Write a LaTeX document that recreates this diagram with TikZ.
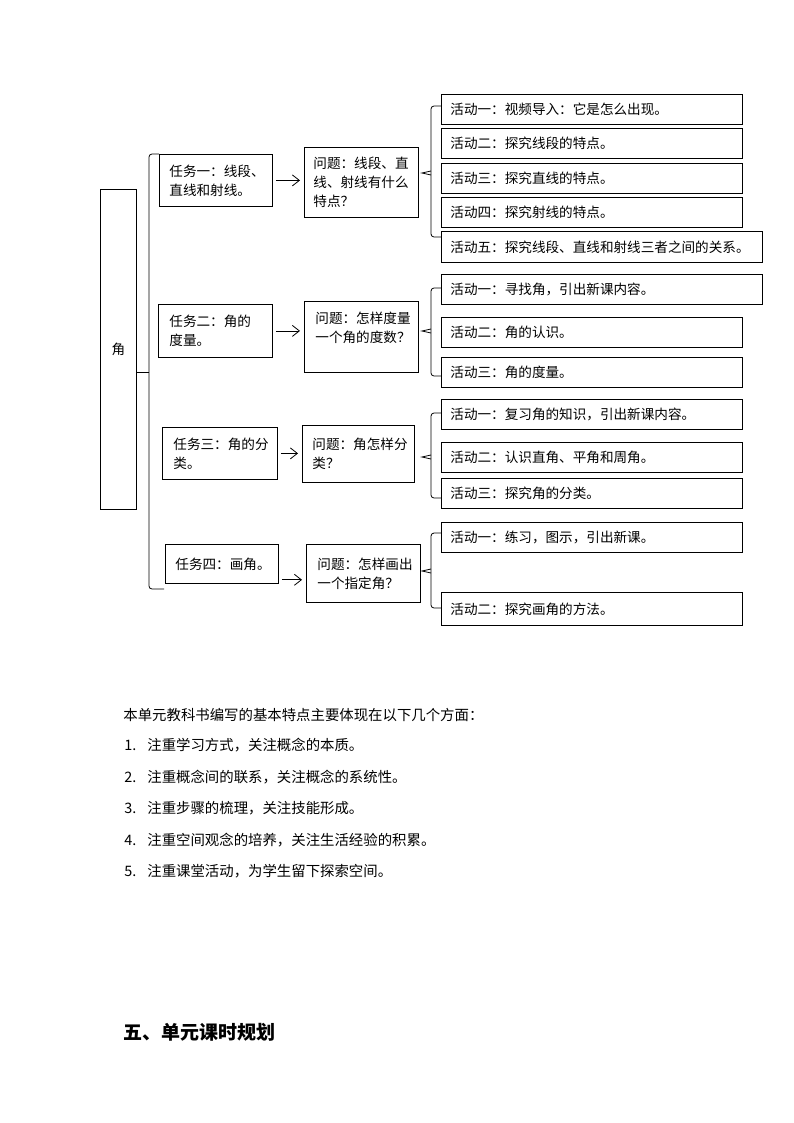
\documentclass[tikz,border=0pt]{standalone}
\usepackage{fontspec}
\setmainfont{Noto Sans CJK SC}
\usetikzlibrary{arrows.meta,calc}
\begin{document}
\begin{tikzpicture}[x=1pt,y=-1pt,line width=0.8pt,
  box/.style={draw,anchor=north west,inner ysep=0pt,align=left,font=\fontsize{13.6}{19}\selectfont},
  act/.style={draw,anchor=north west,inner xsep=9pt,inner ysep=0pt,align=left,minimum height=30pt,font=\fontsize{13.6}{16}\selectfont},
  arr/.style={-{Straight Barb[length=7pt,width=11pt]},shorten <=3pt,shorten >=4pt},
  brace/.style={rounded corners=3pt},
  body/.style={anchor=west,inner sep=0pt,font=\fontsize{14.4}{16}\selectfont}]
\useasboundingbox (0,0) rectangle (794,1123);

% root
\node[box,minimum width=36pt,minimum height=320pt,align=center,inner xsep=0pt] (jiao) at (100,189) {角};

% tasks and questions
\node[box,text width=93pt,inner xsep=10pt,minimum height=52pt] (T1) at (159,154) {任务一：线段、\\直线和射线。};
\node[box,text width=96pt,inner xsep=9pt,minimum height=70pt] (Q1) at (304,147) {问题：线段、直\\线、射线有什么\\特点？};
\node[box,text width=92pt,inner xsep=11pt,minimum height=53pt] (T2) at (158,304) {任务二：角的\\度量。};
\node[box,text width=92pt,inner xsep=11pt,minimum height=71pt] (Q2) at (304,301) {问题：怎样度量\\一个角的度数？\\\mbox{}};
\node[box,text width=93pt,inner xsep=11pt,minimum height=52pt] (T3) at (162,427) {任务三：角的分\\类。};
\node[box,text width=92pt,inner xsep=10pt,minimum height=57pt] (Q3) at (302,425) {问题：角怎样分\\类？};
\node[box,text width=93pt,inner xsep=10pt,minimum height=39pt] (T4) at (165,544) {任务四：画角。};
\node[box,text width=92pt,inner xsep=11pt,minimum height=58pt] (Q4) at (306,544) {问题：怎样画出\\一个指定角？};

% activities
\node[act,text width=283pt] (A11) at (441,94) {活动一：视频导入：它是怎么出现。};
\node[act,text width=283pt] (A12) at (441,128) {活动二：探究线段的特点。};
\node[act,text width=283pt] (A13) at (441,163) {活动三：探究直线的特点。};
\node[act,text width=283pt] (A14) at (441,197) {活动四：探究射线的特点。};
\node[act,text width=303pt,minimum height=31pt] (A15) at (441,231) {活动五：探究线段、直线和射线三者之间的关系。};

\node[act,text width=303pt] (A21) at (441,274) {活动一：寻找角，引出新课内容。};
\node[act,text width=283pt] (A22) at (441,317) {活动二：角的认识。};
\node[act,text width=283pt] (A23) at (441,357) {活动三：角的度量。};

\node[act,text width=283pt] (A31) at (441,399) {活动一：复习角的知识，引出新课内容。};
\node[act,text width=283pt] (A32) at (441,442) {活动二：认识直角、平角和周角。};
\node[act,text width=283pt] (A33) at (441,478) {活动三：探究角的分类。};

\node[act,text width=283pt] (A41) at (441,522) {活动一：练习，图示，引出新课。};
\node[act,text width=283pt,minimum height=33pt] (A42) at (441,592) {活动二：探究画角的方法。};

% big brace
\draw[brace] (T1.north west) -| (149,372) |- (164,589);
\draw (149,372) -- (jiao.east |- 0,372);

% arrows
\draw[arr] (T1.east) -- (Q1.west |- T1.east);
\draw[arr] (T2.east) -- (Q2.west |- T2.east);
\draw[arr] (T3.east) -- (Q3.west |- T3.east);
\coordinate (a4) at ([yshift=4pt]T4.south east);
\draw[arr] (a4) -- (a4 -| Q4.west);

% braces to activities
\draw[brace] (A11.west |- 0,106) -| (431,173) |- (A15.west |- 0,237);
\draw (431,171) -- (422,173) -- (431,175);
\draw[brace] (A21.west |- 0,288) -| (431,331) |- (A23.west |- 0,376);
\draw (431,329) -- (422,331) -- (431,333);
\draw[brace] (A31.west |- 0,413) -| (431,457) |- (A33.west |- 0,498);
\draw (431,455) -- (422,457) -- (431,459);
\draw[brace] (A41.west |- 0,533) -| (431,571) |- (A42.west |- 0,608);
\draw (431,569) -- (422,571) -- (431,573);

% text
\node[body] (intro) at (123,715) {本单元教科书编写的基本特点主要体现在以下几个方面：};
\node[body] (p1) at (124,745) {\makebox[23pt][l]{1.}注重学习方式，关注概念的本质。};
\node[body] (p2) at (124,777) {\makebox[23pt][l]{2.}注重概念间的联系，关注概念的系统性。};
\node[body] (p3) at (124,808) {\makebox[23pt][l]{3.}注重步骤的梳理，关注技能形成。};
\node[body] (p4) at (124,840) {\makebox[23pt][l]{4.}注重空间观念的培养，关注生活经验的积累。};
\node[body] (p5) at (124,871) {\makebox[23pt][l]{5.}注重课堂活动，为学生留下探索空间。};
\node[body,font=\fontsize{19}{21}\selectfont\bfseries] (h5) at (123,1032) {五、单元课时规划};
\end{tikzpicture}
\end{document}
